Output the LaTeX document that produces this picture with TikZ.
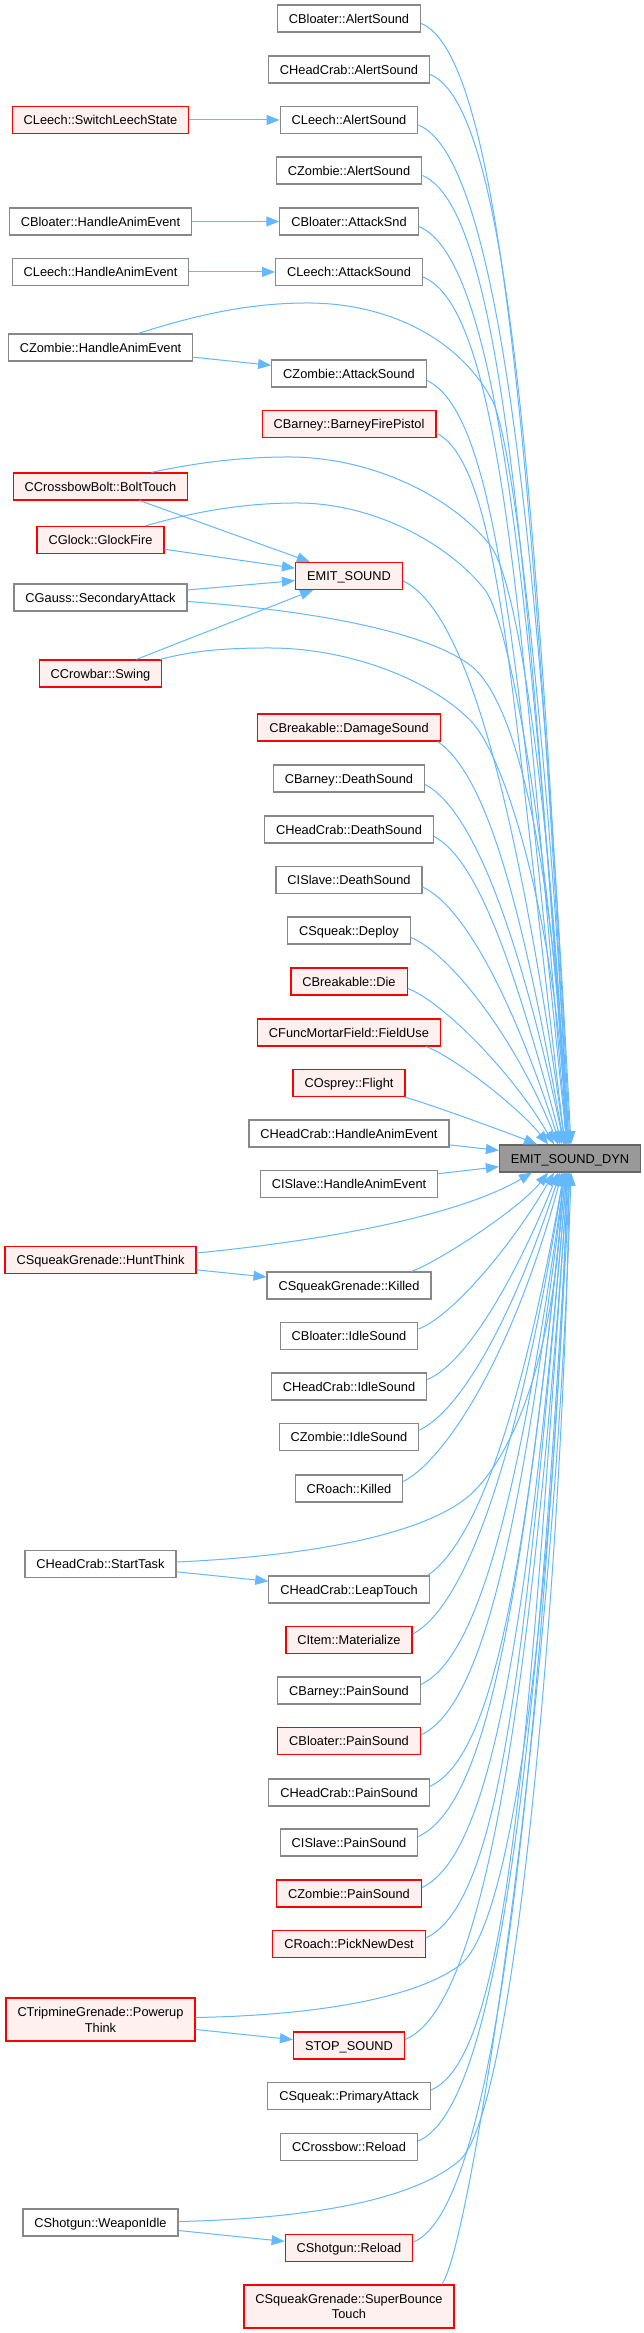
\documentclass[tikz,border=0pt]{standalone}
\usepackage{fontspec}
\setmainfont{Liberation Sans}
\usetikzlibrary{arrows.meta}

\definecolor{callblue}{HTML}{63B8FF}
\definecolor{boxline}{HTML}{888888}
\definecolor{hitfill}{HTML}{FFF0F0}
\definecolor{rootfill}{HTML}{999999}
\definecolor{rootline}{HTML}{666666}

\begin{document}
\begin{tikzpicture}[
    x=0.1pt, y=0.1pt,
    font=\fontsize{1.28}{1.57}\selectfont,
    box/.style={draw=boxline, fill=white, line width=0.12pt, inner xsep=1.15pt,
                inner ysep=0.635pt, text height=1.18pt, text depth=0.25pt},
    redbox/.style={box, draw=red, fill=hitfill},
    root/.style={box, draw=rootline, fill=rootfill},
    tall/.style={align=center, text height={}, text depth={}, minimum height=4.3pt},
    call/.style={-{Triangle[length=1.3pt,width=1pt]}, draw=callblue, line width=0.1pt}
]
\path[use as bounding box, fill=white] (0,0) rectangle (644,-2333);

% callers, right column
\node[box] (ba) at (349,-18.5) {CBloater::AlertSound};
\node[box] (ha) at (349,-69.5) {CHeadCrab::AlertSound};
\node[box] (la) at (349,-120) {CLeech::AlertSound};
\node[box] (za) at (349,-170.5) {CZombie::AlertSound};
\node[box] (bas) at (349,-221.5) {CBloater::AttackSnd};
\node[box] (las) at (349,-272) {CLeech::AttackSound};
\node[box] (zas) at (349,-373.5) {CZombie::AttackSound};
\node[redbox] (bfp) at (349,-424) {CBarney::BarneyFirePistol};
\node[redbox] (emit) at (349,-576) {EMIT\_SOUND};
\node[redbox] (bds) at (349,-727.5) {CBreakable::DamageSound};
\node[box] (bdeath) at (349,-778.5) {CBarney::DeathSound};
\node[box] (hds) at (349,-829.5) {CHeadCrab::DeathSound};
\node[box] (sds) at (349,-880) {CISlave::DeathSound};
\node[box] (sqd) at (349,-930.5) {CSqueak::Deploy};
\node[redbox] (bdie) at (349,-981.5) {CBreakable::Die};
\node[redbox] (fmf) at (349,-1032.5) {CFuncMortarField::FieldUse};
\node[redbox] (osp) at (349,-1083) {COsprey::Flight};
\node[box] (hhae) at (349,-1133.5) {CHeadCrab::HandleAnimEvent};
\node[box] (shae) at (349,-1184) {CISlave::HandleAnimEvent};
\node[box] (sgk) at (349,-1285.5) {CSqueakGrenade::Killed};
\node[box] (bis) at (349,-1336) {CBloater::IdleSound};
\node[box] (his) at (349,-1386.5) {CHeadCrab::IdleSound};
\node[box] (zis) at (349,-1437) {CZombie::IdleSound};
\node[box] (rk) at (349,-1488.5) {CRoach::Killed};
\node[box] (hlt) at (349,-1589.5) {CHeadCrab::LeapTouch};
\node[redbox] (imat) at (349,-1640) {CItem::Materialize};
\node[box] (bps) at (349,-1690.5) {CBarney::PainSound};
\node[redbox] (blps) at (349,-1741) {CBloater::PainSound};
\node[box] (hps) at (349,-1792.5) {CHeadCrab::PainSound};
\node[box] (sps) at (349,-1842.5) {CISlave::PainSound};
\node[redbox] (zps) at (349,-1893.5) {CZombie::PainSound};
\node[redbox] (rpnd) at (349,-1944) {CRoach::PickNewDest};
\node[redbox] (stop) at (349,-2045.5) {STOP\_SOUND};
\node[box] (sqpa) at (349,-2096) {CSqueak::PrimaryAttack};
\node[box] (cbr) at (349,-2147) {CCrossbow::Reload};
\node[redbox] (shr) at (349,-2248) {CShotgun::Reload};
\node[redbox, tall] (sgsb) at (349,-2306.5) {CSqueakGrenade::SuperBounce\\Touch};

% callers, left column
\node[redbox] (sls) at (100.5,-120) {CLeech::SwitchLeechState};
\node[box] (bhae) at (100.5,-221.5) {CBloater::HandleAnimEvent};
\node[box] (lhae) at (100.5,-272) {CLeech::HandleAnimEvent};
\node[box] (zhae) at (100.5,-347.5) {CZombie::HandleAnimEvent};
\node[redbox] (cbbt) at (100.5,-486.5) {CCrossbowBolt::BoltTouch};
\node[redbox] (glock) at (100.5,-540) {CGlock::GlockFire};
\node[box] (gauss) at (100.5,-597.5) {CGauss::SecondaryAttack};
\node[redbox] (swing) at (100.5,-673.5) {CCrowbar::Swing};
\node[redbox] (hunt) at (100.5,-1260) {CSqueakGrenade::HuntThink};
\node[box] (hst) at (100.5,-1564) {CHeadCrab::StartTask};
\node[redbox, tall] (tpt) at (100.5,-2019.5) {CTripmineGrenade::Powerup\\Think};
\node[box] (swi) at (100.5,-2222.5) {CShotgun::WeaponIdle};

% the callee
\node[root] (dyn) at (570,-1158.5) {EMIT\_SOUND\_DYN};

% short calls
\draw[call] (sls) -- (la);
\draw[call] (bhae) -- (bas);
\draw[call] (lhae) -- (las);
\draw[call] (zhae) -- (zas);
\draw[call] (cbbt) -- (emit);
\draw[call] (glock) -- (emit);
\draw[call] (gauss) -- (emit);
\draw[call] (swing) -- (emit);
\draw[call] (hunt) -- (sgk);
\draw[call] (hst) -- (hlt);
\draw[call] (tpt) -- (stop);
\draw[call] (swi) -- (shr);
\draw[call] (hhae) -- (dyn);
\draw[call] (shae) -- (dyn);

% calls from above
\draw[call] ([yshift=-0.5pt]ba.east) to[out=-22, in=93, out distance=8.5pt, in distance=69pt] ([xshift=-0.1pt]dyn.north);
\draw[call] ([yshift=-0.5pt]ha.east) to[out=-22, in=93, out distance=8.5pt, in distance=65.5pt] (dyn.north);
\draw[call] ([yshift=-0.5pt]la.east) to[out=-22, in=93, out distance=8.5pt, in distance=62.5pt] ([xshift=0.1pt]dyn.north);
\draw[call] ([yshift=-0.5pt]za.east) to[out=-22, in=94, out distance=8.5pt, in distance=59pt] ([xshift=-0.2pt]dyn.north);
\draw[call] ([yshift=-0.5pt]bas.east) to[out=-22, in=94, out distance=8.5pt, in distance=56pt] ([xshift=-0.1pt]dyn.north);
\draw[call] ([yshift=-0.5pt]las.east) to[out=-22, in=95, out distance=8.5pt, in distance=53pt] ([xshift=-0.3pt]dyn.north);
\draw[call] ([yshift=-0.7pt]zas.east) to[out=-25, in=96, out distance=8pt, in distance=47pt] ([xshift=-0.3pt]dyn.north);
\draw[call] ([yshift=-0.9pt]bfp.east) to[out=-28, in=97, out distance=7.5pt, in distance=44pt] ([xshift=-0.5pt]dyn.north);
\draw[call] ([yshift=-0.5pt]emit.east) to[out=-25, in=98, out distance=7pt, in distance=34.5pt] ([xshift=-0.5pt]dyn.north);
\draw[call] ([xshift=-0.3pt]bds.south east) to[out=-35, in=100, out distance=6pt, in distance=24.5pt] ([xshift=-0.6pt]dyn.north);
\draw[call] ([yshift=-0.6pt]bdeath.east) to[out=-28, in=102, out distance=5.5pt, in distance=21.5pt] ([xshift=-0.6pt]dyn.north);
\draw[call] ([yshift=-0.7pt]hds.east) to[out=-28, in=105, out distance=5pt, in distance=18.5pt] ([xshift=-0.8pt]dyn.north);
\draw[call] ([yshift=-0.7pt]sds.east) to[out=-25, in=108, out distance=4.5pt, in distance=15.5pt] ([xshift=-1pt]dyn.north);
\draw[call] ([yshift=-0.7pt]sqd.east) to[out=-22, in=112, out distance=4pt, in distance=12pt] ([xshift=-1.2pt]dyn.north);
\draw[call] ([yshift=-0.7pt]bdie.east) to[out=-20, in=120, out distance=3.5pt, in distance=8.5pt] ([xshift=-1.6pt]dyn.north);
\draw[call] ([xshift=-1.5pt]fmf.south east) to[out=-20, in=128, out distance=3pt, in distance=4.5pt] ([xshift=-2.2pt]dyn.north);
\draw[call] ([xshift=-0.1pt]osp.south east) to[out=-15, in=158, out distance=2.5pt, in distance=2.5pt] ([xshift=-3.3pt]dyn.north);

\draw[call] ([xshift=3.8pt]zhae.north) .. controls (190,-317) and (245,-303) .. (307,-303)
    .. controls (390,-303) and (460,-340) .. (492,-400)
    .. controls (520,-452) and (560,-900) .. ([xshift=-0.3pt]dyn.north);
\draw[call] ([xshift=5.1pt]cbbt.north) .. controls (195,-463) and (240,-457) .. (289,-457)
    .. controls (370,-457) and (450,-495) .. (490,-545)
    .. controls (525,-590) and (558,-900) .. ([xshift=-0.4pt]dyn.north);
\draw[call] ([xshift=4.5pt]glock.north) .. controls (190,-513) and (240,-503) .. (297,-503)
    .. controls (375,-503) and (450,-545) .. (485,-590)
    .. controls (515,-630) and (558,-920) .. ([xshift=-0.4pt]dyn.north);
\draw[call] ([yshift=-0.4pt]gauss.east) .. controls (330,-612) and (430,-635) .. (470,-665)
    .. controls (530,-710) and (560,-950) .. ([xshift=-0.4pt]dyn.north);
\draw[call] ([xshift=-0.2pt]swing.north east) .. controls (195,-650) and (230,-648) .. (269,-648)
    .. controls (350,-648) and (430,-680) .. (470,-720)
    .. controls (510,-760) and (560,-950) .. ([xshift=-0.4pt]dyn.north);

% calls from below
\draw[call] ([xshift=-2pt]sgk.north east) to[out=20, in=-128, out distance=3pt, in distance=4.5pt] ([xshift=-2.2pt]dyn.south);
\draw[call] ([yshift=0.7pt]bis.east) to[out=20, in=-120, out distance=3.5pt, in distance=8.5pt] ([xshift=-1.6pt]dyn.south);
\draw[call] ([yshift=0.7pt]his.east) to[out=22, in=-112, out distance=4pt, in distance=12pt] ([xshift=-1.2pt]dyn.south);
\draw[call] ([yshift=0.7pt]zis.east) to[out=25, in=-108, out distance=4.5pt, in distance=15.5pt] ([xshift=-1pt]dyn.south);
\draw[call] ([yshift=0.7pt]rk.east) to[out=28, in=-105, out distance=5pt, in distance=18.5pt] ([xshift=-0.8pt]dyn.south);
\draw[call] ([xshift=-0.2pt]hlt.north east) to[out=35, in=-100, out distance=6pt, in distance=24.5pt] ([xshift=-0.6pt]dyn.south);
\draw[call] ([yshift=0.6pt]imat.east) to[out=28, in=-99, out distance=6pt, in distance=29pt] ([xshift=-0.6pt]dyn.south);
\draw[call] ([yshift=0.6pt]bps.east) to[out=25, in=-98, out distance=6.5pt, in distance=32pt] ([xshift=-0.5pt]dyn.south);
\draw[call] ([yshift=0.6pt]blps.east) to[out=25, in=-97, out distance=7pt, in distance=35pt] ([xshift=-0.5pt]dyn.south);
\draw[call] ([yshift=0.6pt]hps.east) to[out=25, in=-96, out distance=7.5pt, in distance=38pt] ([xshift=-0.4pt]dyn.south);
\draw[call] ([yshift=0.6pt]sps.east) to[out=25, in=-96, out distance=8pt, in distance=41pt] ([xshift=-0.4pt]dyn.south);
\draw[call] ([yshift=0.6pt]zps.east) to[out=25, in=-95, out distance=8pt, in distance=44pt] ([xshift=-0.3pt]dyn.south);
\draw[call] ([yshift=0.6pt]rpnd.east) to[out=25, in=-95, out distance=8.5pt, in distance=47pt] ([xshift=-0.3pt]dyn.south);
\draw[call] ([yshift=0.6pt]stop.east) to[out=22, in=-94, out distance=8.5pt, in distance=53pt] ([xshift=-0.2pt]dyn.south);
\draw[call] ([yshift=0.6pt]sqpa.east) to[out=22, in=-94, out distance=8.5pt, in distance=56pt] ([xshift=-0.2pt]dyn.south);
\draw[call] ([yshift=0.6pt]cbr.east) to[out=22, in=-93, out distance=8.5pt, in distance=59pt] ([xshift=-0.1pt]dyn.south);
\draw[call] ([yshift=0.6pt]shr.east) to[out=22, in=-93, out distance=8.5pt, in distance=65pt] (dyn.south);

\draw[call] ([yshift=0.7pt]hunt.east) .. controls (330,-1240) and (460,-1215) .. ([xshift=-3.8pt]dyn.south);
\draw[call] ([yshift=0.2pt]hst.east) .. controls (330,-1555) and (430,-1530) .. (470,-1495)
    .. controls (530,-1440) and (560,-1300) .. ([xshift=-0.8pt]dyn.south);
\draw[call] ([yshift=0.2pt]tpt.east) .. controls (330,-2015) and (420,-1995) .. (460,-1965)
    .. controls (530,-1910) and (562,-1400) .. ([xshift=-0.3pt]dyn.south);
\draw[call] ([yshift=0.1pt]swi.east) .. controls (330,-2218) and (420,-2195) .. (460,-2160)
    .. controls (520,-2105) and (566,-1500) .. ([xshift=-0.1pt]dyn.south);
\draw[call] ([xshift=-1.3pt]sgsb.north east) .. controls (470,-2250) and (555,-1700) .. ([xshift=0.1pt]dyn.south);
\end{tikzpicture}
\end{document}
